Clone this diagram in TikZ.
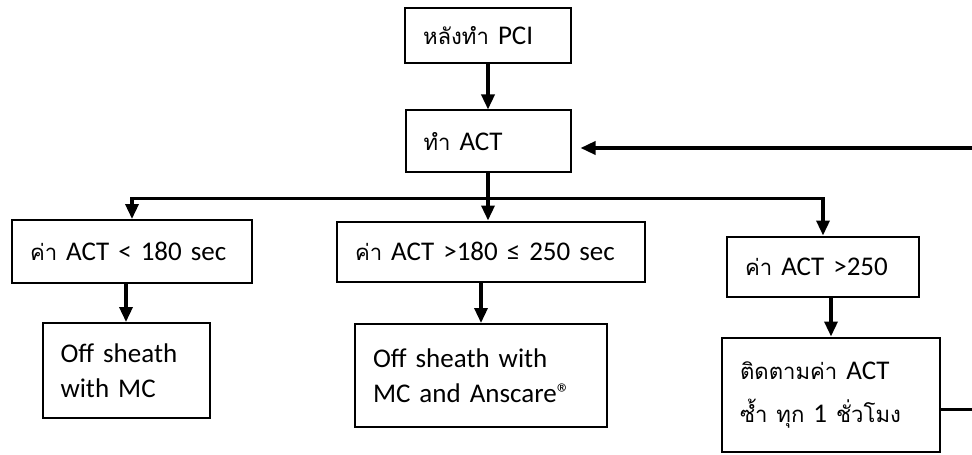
\documentclass[tikz,border=0pt]{standalone}
\usepackage{fontspec}
\setmainfont{Carlito}
\newfontfamily\thai[Script=Thai,Scale=0.82]{Loma}
\usetikzlibrary{positioning}
\usetikzlibrary{arrows.meta}
\tikzset{>={Triangle[length=7.5pt,width=6.5pt]}}
\tikzset{box/.style={draw, line width=1pt, align=left, inner xsep=9pt, inner ysep=0pt, font=\fontsize{13.5}{17.5}\selectfont}}
\tikzset{arr/.style={->, line width=1.7pt}}

\begin{document}
\begin{tikzpicture}[on grid, x=0.5pt, y=-0.5pt]
        \useasboundingbox (0,0) rectangle (972,454);

        \node[box, text width=65pt, minimum height=27.5pt] (pci) at (488,35.5) {{\thai หลังทำ} PCI};
        \node[box, text width=64.5pt, minimum height=31pt, below=53pt of pci] (act) {{\thai ทำ} ACT};

        \node[box, text width=136pt, minimum height=30pt, below=55pt of act, xshift=1.5pt] (med) {{\thai ค่า} ACT >180 ≤ 250 sec};
        \node[box, text width=102pt, minimum height=31.5pt, left=179.5pt of med] (low) {{\thai ค่า} ACT < 180 sec};
        \node[box, text width=78pt, minimum height=30pt, right=166pt of med, yshift=-7.5pt] (high) {{\thai ค่า} ACT >250};

        \node[box, text width=65.5pt, minimum height=47.5pt, below=59.5pt of low, xshift=-3pt] (lowres) {Off sheath\\with MC};
        \node[box, text width=108pt, minimum height=51.5pt, below=62pt of med, xshift=-5pt] (medres) {Off sheath with\\MC and Anscare®};
        \node[box, text width=91pt, minimum height=57pt, below=64pt of high, xshift=4pt, font=\fontsize{13.5}{21.5}\selectfont] (hires) {{\thai ติดตามค่า} ACT\\{\thai ซ้ำ ทุก} 1 {\thai ชั่วโมง}};

        \coordinate[below=12.5pt of act.south] (split);
        \coordinate (back) at (985,148);

        \draw[arr] (pci) -- (act);
        \draw[arr] (act) -- (split |- med.north);
        \draw[arr] (split) -| (low);
        \draw[arr] (split) -| (high);

        \draw[arr] (low.south -| lowres) -- (lowres);
        \draw[arr] (med.south -| medres) -- (medres);
        \draw[arr] (high.south -| hires) -- (hires);

        \draw[arr, shorten >=4.5pt] ([yshift=-7.5pt]hires.east) -| (back) -- (back -| act.east);
\end{tikzpicture}
\end{document}
